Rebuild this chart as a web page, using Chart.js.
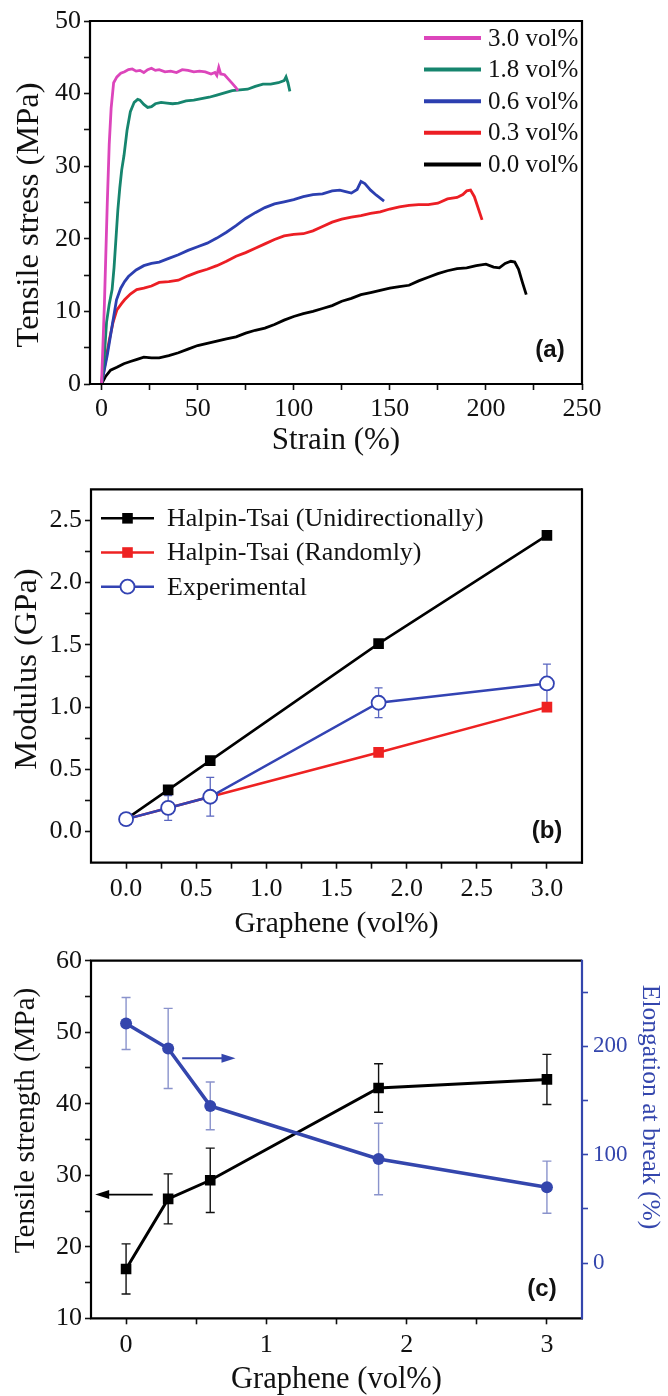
<!DOCTYPE html>
<html>
<head>
<meta charset="utf-8">
<script src="https://cdn.jsdelivr.net/npm/chart.js@4.4.0/dist/chart.umd.min.js"></script>
<style>
  html, body { margin: 0; padding: 0; background: #fff; }
  #wrap { position: relative; width: 668px; height: 1396px; }
  .panel { position: absolute; left: 0; }
</style>
</head>
<body>
<div id="wrap">
  <canvas id="chartA" class="panel" width="668" height="465" style="top:0"></canvas>
  <canvas id="chartB" class="panel" width="668" height="475" style="top:465px"></canvas>
  <canvas id="chartC" class="panel" width="668" height="456" style="top:940px"></canvas>
</div>
<script>
// ---- panel (a): stress-strain curves ----
const strain30 = [0, 1.5, 3, 4, 5, 6.3, 8, 10, 12, 14, 16, 18, 20, 22, 24, 26, 28, 30, 33, 36, 39, 42, 45, 48, 51, 54, 57, 59, 60, 61, 62, 64, 66, 68, 70, 71];
const stress30 = [0, 11, 25, 33, 38, 41.5, 42.3, 42.8, 43.0, 43.3, 43.4, 43.1, 43.2, 42.9, 43.3, 43.5, 43.2, 43.3, 43.0, 43.1, 42.9, 43.3, 43.2, 43.0, 43.1, 43.0, 42.7, 42.9, 42.5, 43.6, 42.7, 42.6, 42.0, 41.4, 40.8, 40.4];

const strain18 = [0, 1.5, 2.6, 4, 5.5, 6.5, 7.5, 8.5, 9.5, 10.5, 11.7, 13.3, 15, 17, 18.8, 20, 22, 24, 26, 28, 31, 34, 37, 40, 44, 48, 52, 56, 60, 64, 68, 72, 76, 80, 84, 88, 92, 95, 96, 97, 98];
const stress18 = [0, 4, 8.5, 11, 13, 16, 20, 24, 27, 29.5, 31.5, 35, 37.5, 38.8, 39.2, 39.1, 38.5, 38.1, 38.2, 38.6, 38.8, 38.7, 38.6, 38.7, 39.0, 39.1, 39.3, 39.5, 39.8, 40.1, 40.4, 40.5, 40.6, 41.0, 41.3, 41.3, 41.5, 41.8, 42.3, 41.5, 40.3];

const strain06 = [0, 3, 5.5, 7.8, 10, 12, 14, 18, 22, 26, 30, 35, 40, 45, 50, 55, 60, 65, 70, 75, 80, 85, 90, 95, 100, 105, 110, 115, 120, 124, 127, 130, 133, 135, 137, 140, 143, 147];
const stress06 = [0, 4, 8, 11.6, 13.2, 14.1, 14.8, 15.7, 16.3, 16.6, 16.8, 17.3, 17.8, 18.4, 18.9, 19.4, 20.1, 20.9, 21.8, 22.8, 23.6, 24.3, 24.8, 25.1, 25.4, 25.8, 26.1, 26.2, 26.6, 26.7, 26.5, 26.3, 26.8, 27.9, 27.6, 26.7, 26.0, 25.2];

const strain03 = [0, 2, 4, 6, 8, 10.5, 12, 15, 18.3, 22, 26, 30, 35, 40, 45, 50, 55, 60, 65, 70, 75, 80, 85, 90, 95, 100, 105, 110, 115, 120, 125, 130, 135, 140, 145, 150, 155, 160, 165, 170, 175, 180, 185, 188, 190, 192, 194, 196, 198];
const stress03 = [0, 3, 6, 8.5, 10.2, 11.1, 11.6, 12.4, 13, 13.2, 13.5, 14, 14.1, 14.3, 14.9, 15.4, 15.8, 16.3, 16.9, 17.6, 18.1, 18.7, 19.3, 19.9, 20.4, 20.6, 20.7, 21.1, 21.7, 22.3, 22.7, 23.0, 23.2, 23.5, 23.7, 24.1, 24.4, 24.6, 24.7, 24.7, 24.9, 25.5, 25.7, 26.1, 26.6, 26.7, 25.8, 24.2, 22.6];

const strain00 = [0, 2, 4.7, 8, 11.6, 15, 18.5, 22, 26, 30, 35, 40, 45, 50, 55, 60, 65, 70, 75, 80, 85, 90, 95, 100, 105, 110, 115, 120, 125, 130, 135, 140, 145, 150, 155, 160, 165, 170, 175, 180, 185, 190, 195, 200, 204, 207, 210, 213, 215, 217, 219, 221];
const stress00 = [0, 1.0, 1.9, 2.3, 2.8, 3.1, 3.4, 3.7, 3.6, 3.6, 3.9, 4.3, 4.8, 5.3, 5.6, 5.9, 6.2, 6.5, 7.0, 7.4, 7.7, 8.2, 8.8, 9.3, 9.7, 10.0, 10.4, 10.8, 11.4, 11.8, 12.3, 12.6, 12.9, 13.2, 13.4, 13.6, 14.2, 14.7, 15.2, 15.6, 15.9, 16.0, 16.3, 16.5, 16.1, 16.0, 16.6, 16.9, 16.8, 15.8, 14.0, 12.3];

const strainTicks = [0, 25, 50, 75, 100, 125, 150, 175, 200, 225, 250];
const stressTicks = [0, 5, 10, 15, 20, 25, 30, 35, 40, 45, 50];

// ---- panel (b): modulus ----
const grapheneB = [0, 0.3, 0.6, 1.8, 3.0];
const modUni = [0.10, 0.335, 0.57, 1.51, 2.38];
const modRandom = [0.10, 0.19, 0.28, 0.636, 1.0];
const modExp = [0.10, 0.19, 0.28, 1.035, 1.19];
const modExpErr = [0.02, 0.10, 0.155, 0.12, 0.155];
const grapheneTicksB = [0, 0.25, 0.5, 0.75, 1, 1.25, 1.5, 1.75, 2, 2.25, 2.5, 2.75, 3];
const modulusTicks = [0, 0.25, 0.5, 0.75, 1, 1.25, 1.5, 1.75, 2, 2.25, 2.5];

// ---- panel (c): strength and elongation ----
const grapheneC = [0, 0.3, 0.6, 1.8, 3.0];
const strength = [16.9, 26.7, 29.3, 42.2, 43.4];
const strengthErr = [3.5, 3.5, 4.5, 3.4, 3.5];
const elongation = [221, 198, 145, 96, 70];
const elongationErr = [24, 37, 22, 33, 24];
const grapheneTicksC = [0, 0.5, 1, 1.5, 2, 2.5, 3];
const strengthTicks = [10, 15, 20, 25, 30, 35, 40, 45, 50, 55, 60];
const elongationTicks = [0, 50, 100, 150, 200, 250];

const SERIF = '"Liberation Serif", "Times New Roman", serif';
const BLUE_C = '#3446ad';

function pts(xs, ys) { return xs.map((x, i) => ({ x: x, y: ys[i] })); }
function setTicks(list) { return s => { s.ticks = list.map(v => ({ value: v })); }; }
function every(step, digits) {
  return v => Math.abs(v / step - Math.round(v / step)) < 1e-6 ? (digits ? v.toFixed(digits) : String(v)) : '';
}

// frame round the plot area
const framePlugin = {
  id: 'frame',
  afterDatasetsDraw(chart, args, opts) {
    const { left, right, top, bottom } = chart.chartArea;
    const ctx = chart.ctx;
    ctx.save();
    ctx.lineWidth = 2.2;
    ctx.strokeStyle = '#000';
    ctx.beginPath();
    ctx.moveTo(right, top); ctx.lineTo(left, top); ctx.lineTo(left, bottom); ctx.lineTo(right + 1, bottom);
    ctx.stroke();
    ctx.strokeStyle = opts.rightColor || '#000';
    ctx.beginPath(); ctx.moveTo(right, top - 1); ctx.lineTo(right, bottom + 1); ctx.stroke();
    ctx.restore();
  }
};

// vertical error bars from dataset.errorBars
const errorBarPlugin = {
  id: 'errorBars',
  beforeDatasetsDraw(chart) {
    const ctx = chart.ctx;
    chart.data.datasets.forEach((ds, i) => {
      if (!ds.errorBars) return;
      const meta = chart.getDatasetMeta(i);
      const yScale = chart.scales[meta.yAxisID];
      ctx.save();
      ctx.strokeStyle = ds.errorColor || ds.borderColor;
      ctx.lineWidth = ds.errorWidth || 1.5;
      const c = ds.capWidth || 4;
      meta.data.forEach((pt, j) => {
        const v = ds.data[j].y, e = ds.errorBars[j];
        const y1 = yScale.getPixelForValue(v + e), y2 = yScale.getPixelForValue(v - e);
        ctx.beginPath();
        ctx.moveTo(pt.x, y1); ctx.lineTo(pt.x, y2);
        ctx.moveTo(pt.x - c, y1); ctx.lineTo(pt.x + c, y1);
        ctx.moveTo(pt.x - c, y2); ctx.lineTo(pt.x + c, y2);
        ctx.stroke();
      });
      ctx.restore();
    });
  }
};

// legend drawn inside the plot area
const innerLegendPlugin = {
  id: 'innerLegend',
  afterDraw(chart, args, opts) {
    if (!opts.x && opts.x !== 0) return;
    const ctx = chart.ctx, a = chart.chartArea;
    ctx.save();
    ctx.font = opts.font;
    ctx.textBaseline = 'middle';
    chart.data.datasets.forEach((ds, k) => {
      const y = a.top + opts.y + k * opts.gap;
      const x0 = a.left + opts.x;
      ctx.strokeStyle = ds.borderColor;
      ctx.lineWidth = opts.lineWidth;
      ctx.beginPath(); ctx.moveTo(x0, y); ctx.lineTo(x0 + opts.len, y); ctx.stroke();
      if (ds.pointRadius) {
        ctx.fillStyle = ds.pointBackgroundColor;
        ctx.strokeStyle = ds.pointBorderColor;
        ctx.lineWidth = ds.pointBorderWidth;
        Chart.helpers.drawPoint(ctx, { pointStyle: ds.pointStyle, radius: ds.pointRadius, rotation: 0, borderWidth: ds.pointBorderWidth }, x0 + opts.len / 2, y);
      }
      ctx.fillStyle = '#111';
      ctx.fillText(ds.label, x0 + opts.len + opts.textGap, y + 1);
    });
    ctx.restore();
  }
};

// (a) (b) (c) marks
const panelLabelPlugin = {
  id: 'panelLabel',
  afterDraw(chart, args, opts) {
    if (!opts.text) return;
    const ctx = chart.ctx, a = chart.chartArea;
    ctx.save();
    ctx.font = 'bold 24px "Liberation Sans", Arial, sans-serif';
    ctx.fillStyle = '#111';
    ctx.textAlign = 'center';
    ctx.textBaseline = 'middle';
    ctx.fillText(opts.text, a.right - opts.dx, a.bottom - opts.dy);
    ctx.restore();
  }
};

// arrows pointing to the axes
const arrowPlugin = {
  id: 'arrows',
  afterDatasetsDraw(chart, args, opts) {
    if (!opts.list) return;
    const ctx = chart.ctx, xs = chart.scales.x;
    opts.list.forEach(ar => {
      const ys = chart.scales[ar.axis];
      const x1 = xs.getPixelForValue(ar.from), x2 = xs.getPixelForValue(ar.to);
      const y = ys.getPixelForValue(ar.y);
      const dir = x2 > x1 ? 1 : -1;
      ctx.save();
      ctx.strokeStyle = ar.color; ctx.fillStyle = ar.color; ctx.lineWidth = 1.8;
      ctx.beginPath(); ctx.moveTo(x1, y); ctx.lineTo(x2 - dir * 10, y); ctx.stroke();
      ctx.beginPath(); ctx.moveTo(x2, y); ctx.lineTo(x2 - dir * 14, y - 4.5); ctx.lineTo(x2 - dir * 14, y + 4.5); ctx.closePath(); ctx.fill();
      ctx.restore();
    });
  }
};

// rotated y-axis titles, placed where the figure has them
const sideTitlePlugin = {
  id: 'sideTitles',
  afterDraw(chart, args, opts) {
    if (!opts.list) return;
    const ctx = chart.ctx;
    opts.list.forEach(t => {
      ctx.save();
      ctx.translate(t.x, t.y);
      ctx.rotate(t.rot);
      ctx.font = t.size + 'px ' + SERIF;
      ctx.fillStyle = t.color || '#111';
      ctx.textAlign = 'center';
      ctx.textBaseline = 'middle';
      ctx.fillText(t.text, 0, 0);
      ctx.restore();
    });
  }
};

Chart.register(framePlugin, errorBarPlugin, innerLegendPlugin, panelLabelPlugin, arrowPlugin, sideTitlePlugin);

const tickFont = { family: SERIF, size: 26 };
const gridOut = { drawOnChartArea: false, drawTicks: true, tickLength: 6, tickWidth: 1.6, tickColor: '#111' };

function curve(label, xs, ys, color) {
  return { label: label, data: pts(xs, ys), showLine: true, borderColor: color, backgroundColor: color, borderWidth: 2.8, pointRadius: 0, tension: 0 };
}

// ---------- chart (a) ----------
new Chart(document.getElementById('chartA'), {
  type: 'scatter',
  data: { datasets: [
    curve('3.0 vol%', strain30, stress30, '#dc45bb'),
    curve('1.8 vol%', strain18, stress18, '#16856e'),
    curve('0.6 vol%', strain06, stress06, '#2c3fb0'),
    curve('0.3 vol%', strain03, stress03, '#ec1e24'),
    curve('0.0 vol%', strain00, stress00, '#000000')
  ] },
  options: {
    responsive: false, animation: false,
    layout: { padding: { left: 15, right: 86, top: 21, bottom: 0 } },
    plugins: {
      legend: { display: false }, tooltip: { enabled: false },
      innerLegend: { x: 334, y: 17, gap: 31.6, len: 57, textGap: 7, lineWidth: 4, font: '25px ' + SERIF },
      panelLabel: { text: '(a)', dx: 32, dy: 34 },
      sideTitles: { list: [{ text: 'Tensile stress (MPa)', x: 29, y: 215, rot: -Math.PI / 2, size: 32.5 }] }
    },
    scales: {
      x: {
        type: 'linear', min: -6, max: 250,
        afterBuildTicks: setTicks(strainTicks),
        afterFit: s => { s.height = 81; },
        border: { display: false }, grid: gridOut,
        ticks: { font: tickFont, color: '#111', padding: 4, maxRotation: 0, autoSkip: false, callback: every(50) },
        title: { display: true, text: 'Strain (%)', font: { family: SERIF, size: 31, lineHeight: 1 }, color: '#111', padding: { top: 0, bottom: 8.5 } }
      },
      y: {
        type: 'linear', min: 0, max: 50,
        afterBuildTicks: setTicks(stressTicks),
        afterFit: s => { s.width = 75; },
        border: { display: false }, grid: gridOut,
        ticks: { font: tickFont, color: '#111', padding: 3, autoSkip: false, callback: every(10) }
      }
    }
  }
});

// ---------- chart (b) ----------
new Chart(document.getElementById('chartB'), {
  type: 'scatter',
  data: { datasets: [
    { label: 'Halpin-Tsai (Unidirectionally)', data: pts(grapheneB, modUni), showLine: true, borderColor: '#000', borderWidth: 2.5,
      pointStyle: 'rect', pointRadius: 7.5, pointBackgroundColor: '#000', pointBorderColor: '#000', pointBorderWidth: 0, order: 2 },
    { label: 'Halpin-Tsai (Randomly)', data: pts(grapheneB, modRandom), showLine: true, borderColor: '#ee2222', borderWidth: 2.5,
      pointStyle: 'rect', pointRadius: 7.5, pointBackgroundColor: '#ee2222', pointBorderColor: '#ee2222', pointBorderWidth: 0, order: 1 },
    { label: 'Experimental', data: pts(grapheneB, modExp), showLine: true, borderColor: '#3343b3', borderWidth: 2.5,
      pointStyle: 'circle', pointRadius: 7, pointBackgroundColor: '#fff', pointBorderColor: '#3343b3', pointBorderWidth: 1.8,
      errorBars: modExpErr, errorColor: '#5a66c0', errorWidth: 1.3, capWidth: 4, order: 0 }
  ] },
  options: {
    responsive: false, animation: false,
    layout: { padding: { left: 15, right: 86, top: 24.3, bottom: 0 } },
    plugins: {
      legend: { display: false }, tooltip: { enabled: false },
      innerLegend: { x: 10, y: 29, gap: 34.2, len: 53, textGap: 13, lineWidth: 2.5, font: '26px ' + SERIF },
      panelLabel: { text: '(b)', dx: 35, dy: 31 },
      sideTitles: { list: [{ text: 'Modulus (GPa)', x: 27, y: 204, rot: -Math.PI / 2, size: 32.5 }] }
    },
    scales: {
      x: {
        type: 'linear', min: -0.25, max: 3.25,
        afterBuildTicks: setTicks(grapheneTicksB),
        afterFit: s => { s.height = 77.3; },
        border: { display: false }, grid: gridOut,
        ticks: { font: tickFont, color: '#111', padding: 5, maxRotation: 0, autoSkip: false, callback: every(0.5, 1) },
        title: { display: true, text: 'Graphene (vol%)', font: { family: SERIF, size: 29.5, lineHeight: 1 }, color: '#111', padding: { top: 0, bottom: 1.2 } }
      },
      y: {
        type: 'linear', min: -0.25, max: 2.75,
        afterBuildTicks: setTicks(modulusTicks),
        afterFit: s => { s.width = 76; },
        border: { display: false }, grid: gridOut,
        ticks: { font: tickFont, color: '#111', padding: 3, autoSkip: false, callback: every(0.5, 1) }
      }
    }
  }
});

// ---------- chart (c) ----------
new Chart(document.getElementById('chartC'), {
  type: 'scatter',
  data: { datasets: [
    { label: 'Elongation at break', data: pts(grapheneC, elongation), yAxisID: 'y2', showLine: true, borderColor: BLUE_C, borderWidth: 3.5,
      pointStyle: 'circle', pointRadius: 6, pointBackgroundColor: BLUE_C, pointBorderColor: BLUE_C, pointBorderWidth: 0,
      errorBars: elongationErr, errorColor: '#8a93cc', errorWidth: 1.4, capWidth: 4.5, order: 0 },
    { label: 'Tensile strength', data: pts(grapheneC, strength), yAxisID: 'y', showLine: true, borderColor: '#000', borderWidth: 3,
      pointStyle: 'rect', pointRadius: 7.5, pointBackgroundColor: '#000', pointBorderColor: '#000', pointBorderWidth: 0,
      errorBars: strengthErr, errorColor: '#111', errorWidth: 1.4, capWidth: 4.5, order: 1 }
  ] },
  options: {
    responsive: false, animation: false,
    layout: { padding: { left: 15, right: 0, top: 20.7, bottom: 0 } },
    plugins: {
      legend: { display: false }, tooltip: { enabled: false },
      frame: { rightColor: BLUE_C },
      panelLabel: { text: '(c)', dx: 40, dy: 29 },
      arrows: { list: [
        { from: 0.19, to: -0.22, y: 27.3, axis: 'y', color: '#000' },
        { from: 0.40, to: 0.78, y: 189, axis: 'y2', color: BLUE_C }
      ] },
      sideTitles: { list: [
        { text: 'Tensile strength (MPa)', x: 26, y: 180.5, rot: -Math.PI / 2, size: 29 },
        { text: 'Elongation at break (%)', x: 650, y: 167, rot: Math.PI / 2, size: 25.5, color: BLUE_C }
      ] }
    },
    scales: {
      x: {
        type: 'linear', min: -0.25, max: 3.25,
        afterBuildTicks: setTicks(grapheneTicksC),
        afterFit: s => { s.height = 77.7; },
        border: { display: false }, grid: gridOut,
        ticks: { font: tickFont, color: '#111', padding: 5, maxRotation: 0, autoSkip: false, callback: every(1) },
        title: { display: true, text: 'Graphene (vol%)', font: { family: SERIF, size: 30.5, lineHeight: 1 }, color: '#111', padding: { top: 0, bottom: 0.8 } }
      },
      y: {
        type: 'linear', position: 'left', min: 10, max: 60,
        afterBuildTicks: setTicks(strengthTicks),
        afterFit: s => { s.width = 76; },
        border: { display: false }, grid: gridOut,
        ticks: { font: tickFont, color: '#111', padding: 3, autoSkip: false, callback: every(10) }
      },
      y2: {
        type: 'linear', position: 'right', min: -51, max: 279,
        afterBuildTicks: setTicks(elongationTicks),
        afterFit: s => { s.width = 86; },
        border: { display: false },
        grid: { drawOnChartArea: false, drawTicks: true, tickLength: 6, tickWidth: 1.6, tickColor: BLUE_C },
        ticks: { font: { family: SERIF, size: 23 }, color: BLUE_C, padding: 5, autoSkip: false, callback: every(100) }
      }
    }
  }
});
</script>
</body>
</html>
